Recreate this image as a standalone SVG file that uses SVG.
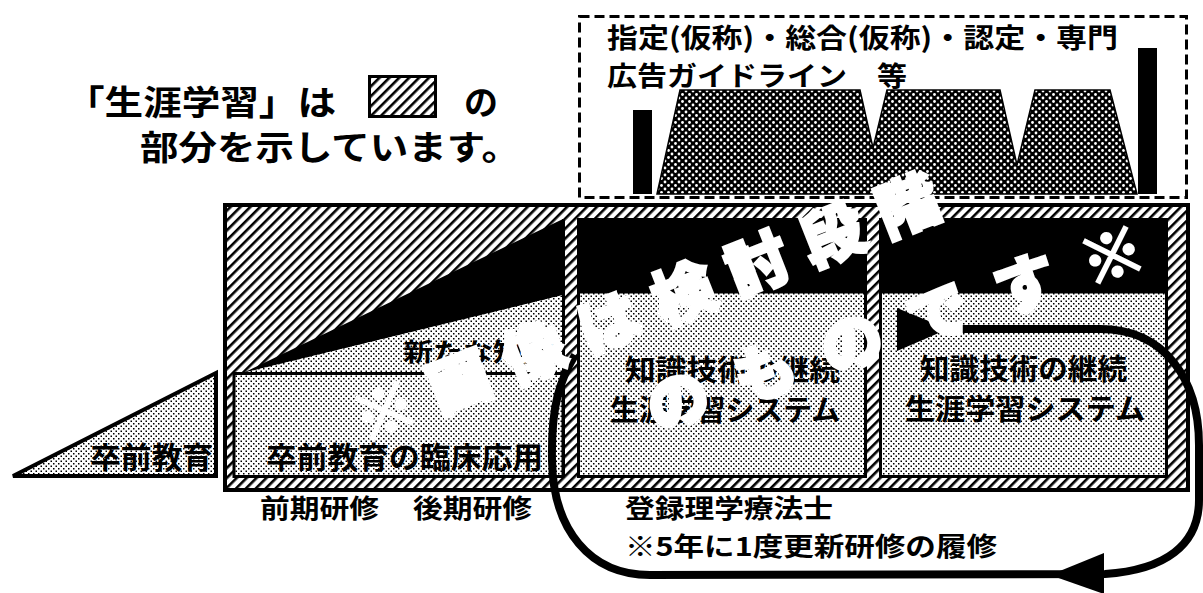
<svg xmlns="http://www.w3.org/2000/svg" width="1203" height="593" viewBox="0 0 1203 593">
<defs>
<pattern id="hatch" width="7" height="7" patternUnits="userSpaceOnUse" patternTransform="rotate(45)"><rect width="7" height="7" fill="#fff"/><rect width="2.6" height="7" fill="#000"/></pattern>
<pattern id="dots" width="5" height="5" patternUnits="userSpaceOnUse"><rect width="5" height="5" fill="#fff"/><rect x="0.5" y="0.5" width="1.5" height="1.5" fill="#000"/><rect x="3" y="3" width="1.5" height="1.5" fill="#000"/></pattern>
<pattern id="dark" width="7" height="7" patternUnits="userSpaceOnUse"><rect width="7" height="7" fill="#000"/><circle cx="0" cy="0" r="1.4" fill="#fff"/><circle cx="7" cy="0" r="1.4" fill="#fff"/><circle cx="0" cy="7" r="1.4" fill="#fff"/><circle cx="7" cy="7" r="1.4" fill="#fff"/><circle cx="3.5" cy="3.5" r="1.4" fill="#fff"/></pattern>
</defs>
<style>
.t{font-family:"Noto Sans CJK JP","Noto Sans CJK SC",sans-serif;font-weight:700;fill:#000}
.wm{font-family:"Noto Sans CJK JP","Noto Sans CJK SC",sans-serif;font-weight:900;fill:#fff;stroke:#fff;stroke-width:3}
.box{stroke:#000;stroke-width:3;fill:url(#dots)}
.blk{fill:#000}
</style>
<rect width="1203" height="593" fill="#fff"/>

<g id="legend">
<text class="t" x="66" y="115" font-size="34" textLength="270" lengthAdjust="spacingAndGlyphs">「生涯学習」は</text>
<rect x="369.5" y="76.5" width="66" height="40" fill="url(#hatch)" stroke="#000" stroke-width="3"/>
<text class="t" x="464" y="115" font-size="34" textLength="34" lengthAdjust="spacingAndGlyphs">の</text>
<text class="t" x="140" y="160" font-size="34" textLength="380" lengthAdjust="spacingAndGlyphs">部分を示しています。</text>
</g>

<g id="guideline">
<rect x="579.5" y="16.5" width="607" height="181" fill="none" stroke="#000" stroke-width="3" stroke-dasharray="10 5"/>
<text class="t" x="607" y="48" font-size="27" textLength="511" lengthAdjust="spacingAndGlyphs">指定(仮称)・総合(仮称)・認定・専門</text>
<text class="t" x="607" y="86" font-size="27" textLength="300" lengthAdjust="spacingAndGlyphs">広告ガイドライン　等</text>
<rect class="blk" x="633" y="110" width="19" height="84"/>
<rect class="blk" x="1138" y="48" width="19" height="146"/>
<polygon points="657,194 680,90 860,90 873,148 887,90 1000,90 1017,165 1035,90 1110,90 1137,194" fill="url(#dark)" stroke="#000" stroke-width="1.5"/>
</g>

<g id="pre-grad">
<polygon points="13,476 216,373 216,476" fill="url(#dots)" stroke="#000" stroke-width="4"/>
<text class="t" x="90" y="468" font-size="30" textLength="123" lengthAdjust="spacingAndGlyphs">卒前教育</text>
</g>

<g id="frame">
<rect x="225" y="205" width="963" height="285" fill="url(#hatch)" stroke="#000" stroke-width="4"/>
<polygon points="243,373 563,219 563,295" fill="#000"/>
<polygon points="243,373 563,295 563,373" fill="url(#dots)"/>
<line x1="563.5" y1="219" x2="563.5" y2="477" stroke="#000" stroke-width="3"/>
<text class="t" x="403" y="361" font-size="25" textLength="150" lengthAdjust="spacingAndGlyphs">新たな知識</text>
</g>

<g id="clinical">
<rect class="box" x="234" y="373.5" width="329" height="103"/>
<text class="t" x="266" y="468" font-size="30" textLength="277" lengthAdjust="spacingAndGlyphs">卒前教育の臨床応用</text>
</g>

<g id="lifelong-1">
<rect class="box" x="578.5" y="219.5" width="287" height="257"/>
<rect class="blk" x="578.5" y="219.5" width="287" height="74"/>
<text class="t" x="625" y="381" font-size="29" textLength="215" lengthAdjust="spacingAndGlyphs">知識技術の継続</text>
<text class="t" x="610" y="421" font-size="29" textLength="230" lengthAdjust="spacingAndGlyphs">生涯学習システム</text>
</g>

<g id="lifelong-2">
<rect class="box" x="880.5" y="219.5" width="286" height="257"/>
<rect class="blk" x="880.5" y="219.5" width="286" height="74"/>
<text class="t" x="920" y="380" font-size="29" textLength="207" lengthAdjust="spacingAndGlyphs">知識技術の継続</text>
<text class="t" x="905" y="420" font-size="29" textLength="240" lengthAdjust="spacingAndGlyphs">生涯学習システム</text>
</g>

<g id="labels">
<text class="t" x="260" y="518" font-size="26" textLength="119" lengthAdjust="spacingAndGlyphs">前期研修</text>
<text class="t" x="413" y="518" font-size="26" textLength="119" lengthAdjust="spacingAndGlyphs">後期研修</text>
<text class="t" x="625" y="518" font-size="26" textLength="208" lengthAdjust="spacingAndGlyphs">登録理学療法士</text>
<text class="t" x="625" y="556" font-size="26" textLength="372" lengthAdjust="spacingAndGlyphs">※5年に1度更新研修の履修</text>
</g>

<g id="connectors">
<path d="M 900,329 L 1100,329 C 1165,329 1199,380 1199,445 L 1199,500 C 1199,545 1165,570 1105,574 L 650,575 C 590,575 553,530 552,460 C 551,405 560,380 575,355" fill="none" stroke="#000" stroke-width="8"/>
<polygon points="897,308 897,351 948,329" fill="#000"/>
<polygon points="1104,553 1104,594 1050,575" fill="#000"/>
</g>

<g id="watermark">
<text class="wm" transform="translate(646,308) rotate(-21.5)" x="-312" y="23" font-size="62" textLength="624" lengthAdjust="spacing">※画像は検討段階</text>
<text class="wm" transform="translate(895,328) rotate(-18.5)" x="-260" y="23" font-size="62" textLength="520" lengthAdjust="spacing">のものです※</text>
</g>
</svg>
